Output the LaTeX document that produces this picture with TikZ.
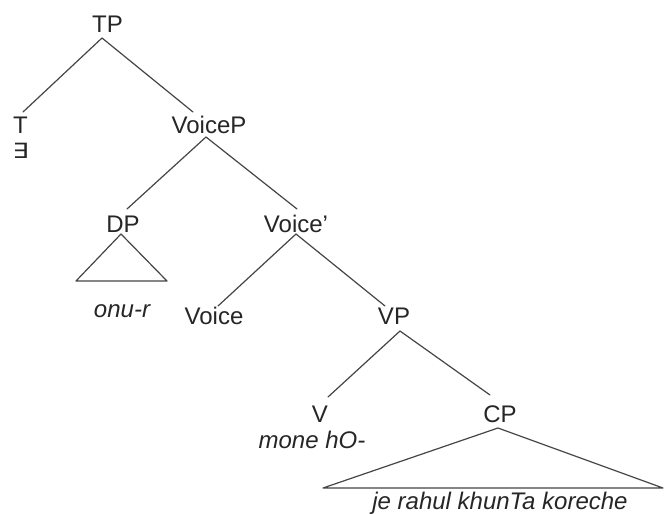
\documentclass[tikz,border=0pt]{standalone}
\usepackage{fontspec}
\setmainfont{Liberation Sans}
\newfontfamily\symfont{DejaVu Sans}
\definecolor{txt}{HTML}{262626}
\definecolor{ln}{HTML}{454545}
\begin{document}
\begin{tikzpicture}[x=1pt,y=-1pt,
  cat/.style={font=\fontsize{24}{24}\selectfont, text=txt, inner sep=0pt, anchor=base},
  word/.style={font=\fontsize{24}{24}\selectfont\itshape, text=txt, inner sep=0pt, anchor=base},
  edge/.style={draw=ln, line width=1.2pt, line join=round, line cap=round}]
\useasboundingbox (0,0) rectangle (664,514);
\fill[white] (0,0) rectangle (664,514);
% nodes
\node[cat] (TP) at (107.5,32) {TP};
\node[cat] (T) at (20.5,133) {T};
\node[font=\symfont\fontsize{21}{21}\selectfont, text=txt, inner sep=0pt, anchor=base, xscale=1.2] (E) at (20.5,158) {∃};
\node[cat] (VoiceP) at (209,133) {VoiceP};
\node[cat] (DP) at (123,232) {DP};
\node[cat] (Voicebar) at (296,232) {Voice'};
\node[word] (onur) at (122,317) {onu-r};
\node[cat] (Voice) at (214,324) {Voice};
\node[cat] (VP) at (394,324) {VP};
\node[cat] (V) at (320,422) {V};
\node[cat] (CP) at (500,422) {CP};
\node[word] (mone) at (312,448) {mone hO-};
\node[word] (je) at (500,509) {je rahul khunTa koreche};
% triangle corners
\coordinate (dpL) at (76,281);
\coordinate (dpR) at (167,281);
\coordinate (cpL) at (323,488);
\coordinate (cpR) at (663,488);
% edges
\draw[edge] ([xshift=-5.5pt,yshift=-6pt]TP.base) -- ([xshift=2.5pt,yshift=21pt]T.base);
\draw[edge] ([xshift=-5.5pt,yshift=-6pt]TP.base) -- ([xshift=-16pt,yshift=21pt]VoiceP.base);
\draw[edge] ([xshift=-3pt,yshift=-4pt]VoiceP.base) -- ([xshift=4pt,yshift=23pt]DP.base);
\draw[edge] ([xshift=-3pt,yshift=-4pt]VoiceP.base) -- ([xshift=1pt,yshift=23pt]Voicebar.base);
\draw[edge] ([yshift=-2pt]Voicebar.base) -- ([xshift=4pt,yshift=18pt]Voice.base);
\draw[edge] ([yshift=-2pt]Voicebar.base) -- ([xshift=-9pt,yshift=18pt]VP.base);
\draw[edge] ([xshift=6pt,yshift=-7pt]VP.base) -- ([xshift=8pt,yshift=25pt]V.base);
\draw[edge] ([xshift=6pt,yshift=-7pt]VP.base) -- ([xshift=-10pt,yshift=27pt]CP.base);
\draw[edge] ([xshift=-2pt,yshift=-2pt]DP.base) -- (dpL) -- (dpR) -- cycle;
\draw[edge] ([xshift=-2pt,yshift=-6pt]CP.base) -- (cpL) -- (cpR) -- cycle;
\end{tikzpicture}
\end{document}
